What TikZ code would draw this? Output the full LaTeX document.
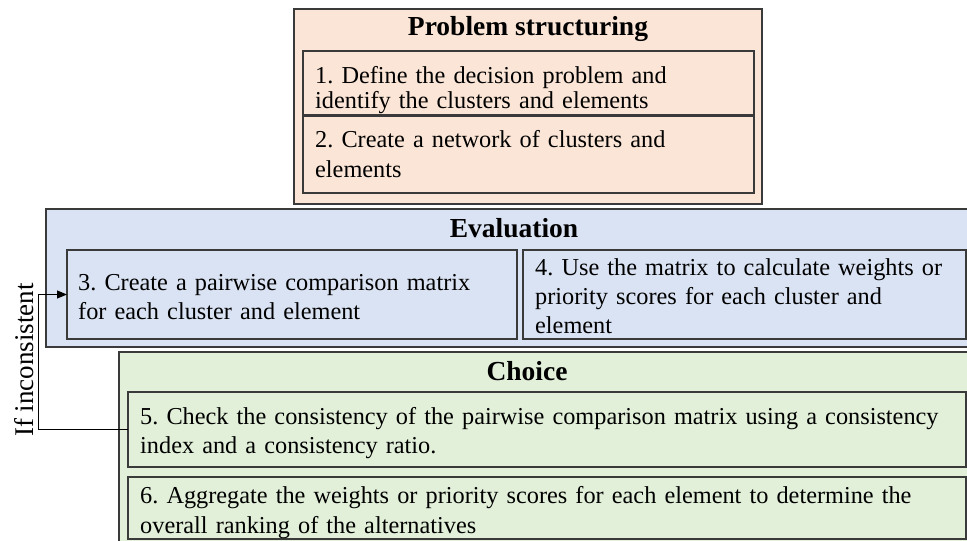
\documentclass[tikz,border=0pt]{standalone}
\usepackage{fontspec}
\setmainfont{Liberation Serif}
\usetikzlibrary{arrows.meta}

\definecolor{peach}{HTML}{FBE5D6}
\definecolor{paleblue}{HTML}{DAE3F3}
\definecolor{palegreen}{HTML}{E2F0D9}
\definecolor{edge}{HTML}{3A3A3A}

\tikzset{
  phase/.style={draw=edge, line width=1.3pt, inner sep=0pt, outer sep=0pt, anchor=north west},
  stepbox/.style={draw=edge, line width=1.1pt, inner sep=0pt, outer sep=0pt, anchor=north west},
  heading/.style={font={\fontsize{27.5}{32}\selectfont\bfseries}, inner sep=0pt, anchor=base},
  steptext/.style={font={\fontsize{24.3}{#1}\selectfont\frenchspacing}, inner sep=0pt, anchor=north west,
    align=left, text width=860pt},
  steptext/.default=29.5,
  loop/.style={line width=1pt, -{Triangle[length=10pt, width=8pt]}},
}
% first-line strut so that the node top sits a fixed distance above the first baseline
\newcommand{\firstline}{\rule{0pt}{20pt}}

\begin{document}
\begin{tikzpicture}[x=1pt, y=-1pt]
  \useasboundingbox (0,0) rectangle (967,541);

  % ---- Problem structuring ----
  \node[phase, fill=peach, minimum width=468pt, minimum height=195pt] (ps) at (294,9) {};
  \node[heading] (psh) at (528,35) {Problem structuring};
  \node[stepbox, fill=peach, minimum width=451pt, minimum height=64pt] (b1) at (303,51) {};
  \node[stepbox, fill=peach, minimum width=451pt, minimum height=77pt] (b2) at (303,116) {};
  \node[steptext=25] (t1) at (315,63) {\firstline 1. Define the decision problem and\\identify the clusters and elements};
  \node[steptext=30] (t2) at (315,127) {\firstline 2. Create a network of clusters and\\elements};

  % ---- Evaluation ----
  \node[phase, fill=paleblue, minimum width=935pt, minimum height=138pt] (ev) at (46,209) {};
  \node[heading] (evh) at (514,237) {Evaluation};
  \node[stepbox, fill=paleblue, minimum width=450pt, minimum height=89pt] (b3) at (67,250) {};
  \node[stepbox, fill=paleblue, minimum width=443pt, minimum height=89pt] (b4) at (523,250) {};
  \node[steptext=29] (t3) at (78,270) {\firstline 3. Create a pairwise comparison matrix\\for each cluster and element};
  \node[steptext=29] (t4) at (535,255) {\firstline 4. Use the matrix to calculate weights or\\priority scores for each cluster and\\element};

  % ---- Choice ----
  \node[phase, fill=palegreen, minimum width=862pt, minimum height=200pt] (ch) at (119,352) {};
  \node[heading] (chh) at (527,380) {Choice};
  \node[stepbox, fill=palegreen, minimum width=838pt, minimum height=75pt] (b5) at (128,392) {};
  \node[stepbox, fill=palegreen, minimum width=838pt, minimum height=62pt] (b6) at (128,477) {};
  \node[steptext=29] (t5) at (140,404) {\firstline 5. Check the consistency of the pairwise comparison matrix using a consistency\\index and a consistency ratio.};
  \node[steptext=30] (t6) at (140,483) {\firstline 6. Aggregate the weights or priority scores for each element to determine the\\overall ranking of the alternatives};

  % ---- feedback loop ----
  \coordinate (bend) at (38,0);
  \draw[loop] (b5.west) -| (bend |- b3.west) -- (b3.west);
  \node[font={\fontsize{27}{32}\selectfont}, inner sep=0pt, rotate=90, anchor=base] (lbl) at (33,360) {If inconsistent};
\end{tikzpicture}
\end{document}
